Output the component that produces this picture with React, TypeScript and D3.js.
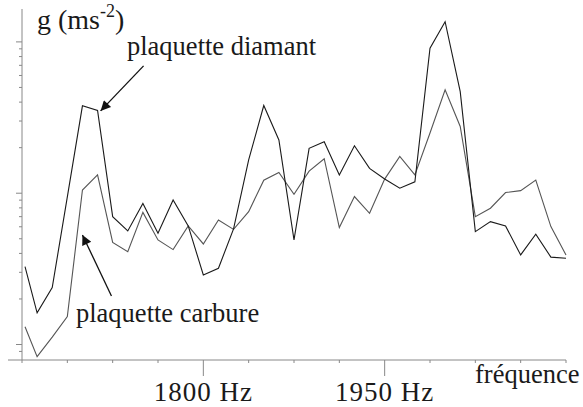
import React from "react";
import * as d3 from "d3";

// frequencies (Hz) of the sampled points
const freqs = [
  1652.5, 1662.5, 1675, 1687.5, 1700, 1712.5, 1725, 1737.5, 1750, 1762.5,
  1775, 1787.5, 1800, 1812.5, 1825, 1837.5, 1850, 1862.5, 1875, 1887.5,
  1900, 1912.5, 1925, 1937.5, 1950, 1962.5, 1975, 1987.5, 2000, 2012.5,
  2025, 2037.5, 2050, 2062.5, 2075, 2087.5, 2100,
];

// g (ms-2), log scale
const diamant = [
  3.27, 1.62, 2.38, 9.45, 37.8, 35.2, 7.0, 5.63, 8.56, 5.44,
  9.03, 6.08, 2.88, 3.19, 5.81, 16.6, 38.0, 22.5, 4.91, 19.8,
  21.9, 13.2, 20.6, 14.6, 12.4, 10.8, 11.9, 90.8, 136, 46.9,
  5.57, 6.49, 6.08, 3.91, 5.36, 3.78, 3.72,
];

const carbure = [
  1.31, 0.832, 1.12, 1.53, 10.5, 13.2, 4.73, 4.11, 7.47, 4.91,
  4.24, 6.08, 4.62, 6.66, 5.77, 7.55, 12.2, 13.7, 9.85, 14.0,
  16.9, 5.93, 9.5, 7.37, 12.4, 17.5, 13.2, 25.0, 48.2, 27.6,
  7.0, 7.96, 10.1, 10.4, 12.2, 6.02, 3.91,
];

const xTicks = [1650, 1687.5, 1725, 1762.5, 1800, 1837.5, 1875, 1912.5, 1950, 1987.5, 2025, 2062.5, 2100];
const xLabels = [
  { f: 1800, text: "1800 Hz" },
  { f: 1950, text: "1950 Hz" },
];

const W = 583;
const H = 407;
const font = "'Liberation Serif', 'Times New Roman', serif";

export default function App() {
  const x = d3.scaleLinear().domain([1650, 2100]).range([22, 566]);
  const y = d3.scaleLog().domain([0.79, 165]).range([360, 9]);

  const line = d3
    .line<number>()
    .x((_, i) => x(freqs[i]))
    .y((d) => y(d));

  const yTicks = y.ticks().filter((t) => t > 0.85 && t < 165);
  const isMajor = (t: number) => Math.abs(Math.log10(t) - Math.round(Math.log10(t))) < 1e-6;

  // arrow tips anchored on data coordinates
  const tipD = [x(1715), y(35)];
  const tipC = [x(1700), y(5.3)];

  return (
    <svg
      width={W}
      height={H}
      style={{ position: "absolute", left: 0, top: 0, background: "#fff" }}
      fontFamily={font}
    >
      <defs>
        <marker id="head" viewBox="0 0 10 10" refX="10" refY="5" markerWidth="13" markerHeight="10" orient="auto" markerUnits="userSpaceOnUse">
          <path d="M0,0 L10,5 L0,10 z" fill="#111" />
        </marker>
      </defs>

      {/* axes */}
      <line x1={22} x2={22} y1={9} y2={360} stroke="#888" />
      <line x1={8} x2={566} y1={360} y2={360} stroke="#888" />
      {yTicks.map((t) => (
        <line key={t} x1={isMajor(t) ? 16 : 19} x2={22} y1={y(t)} y2={y(t)} stroke="#888" />
      ))}
      {xTicks.map((t) => (
        <line
          key={t}
          x1={x(t)}
          x2={x(t)}
          y1={360}
          y2={t === 1800 || t === 1950 ? 376 : 363}
          stroke="#888"
        />
      ))}

      {/* series */}
      <path d={line(carbure) || ""} fill="none" stroke="#555" strokeWidth={1.1} />
      <path d={line(diamant) || ""} fill="none" stroke="#1a1a1a" strokeWidth={1.1} />

      {/* labels */}
      <text x={37} y={29} fontSize={28} fill="#1a1a1a">
        g (ms<tspan fontSize={18} dy={-12}>-2</tspan>
        <tspan dy={12}>)</tspan>
      </text>
      <text x={127} y={55} fontSize={26.5} fill="#1a1a1a">plaquette diamant</text>
      <text x={76} y={322} fontSize={26.5} fill="#1a1a1a">plaquette carbure</text>
      {xLabels.map((l) => (
        <text key={l.text} x={x(l.f)} y={401} fontSize={27} letterSpacing={1} textAnchor="middle" fill="#1a1a1a">
          {l.text}
        </text>
      ))}
      <text x={475} y={383} fontSize={26.5} fill="#1a1a1a">fréquence</text>

      {/* arrows */}
      <line x1={tipD[0] + 43} y1={tipD[1] - 45} x2={tipD[0]} y2={tipD[1]} stroke="#111" strokeWidth={1.3} markerEnd="url(#head)" />
      <line x1={tipC[0] + 29} y1={tipC[1] + 61} x2={tipC[0]} y2={tipC[1]} stroke="#111" strokeWidth={1.3} markerEnd="url(#head)" />
    </svg>
  );
}
